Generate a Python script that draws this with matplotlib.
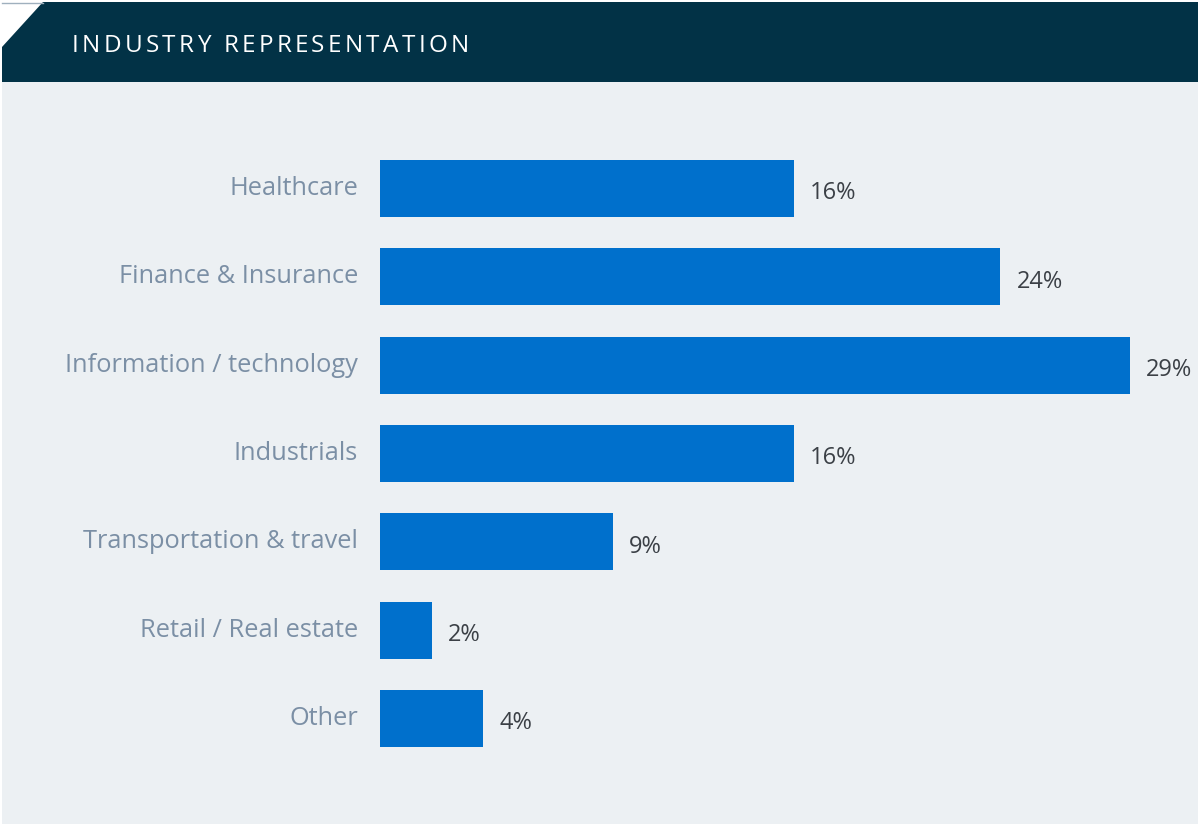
import matplotlib
matplotlib.use("Agg")
import matplotlib.pyplot as plt
from matplotlib.patches import Polygon, Rectangle

categories = ["Healthcare", "Finance & Insurance", "Information / technology",
              "Industrials", "Transportation & travel", "Retail / Real estate", "Other"]
shares = [16, 24, 29, 16, 9, 2, 4]
value_labels = ["16%", "24%", "29%", "16%", "9%", "2%", "4%"]
title = "INDUSTRY REPRESENTATION"

W, H = 1198, 826
fig = plt.figure(figsize=(W / 100, H / 100), dpi=100)
fig.patch.set_facecolor("white")

FONT = ["Open Sans", "DejaVu Sans"]
PANEL = "#ECF0F3"
HEADER = "#023246"
BAR = "#0070CC"
CAT = "#7B8FA5"
VAL = "#3B4046"

# Background canvas in pixel coordinates
bg = fig.add_axes([0, 0, 1, 1])
bg.set_xlim(0, W)
bg.set_ylim(H, 0)
bg.axis("off")
bg.add_patch(Rectangle((2, 82), W - 2, 742, facecolor=PANEL, edgecolor="none"))
bg.add_patch(Polygon([(43, 2), (W, 2), (W, 82), (2, 82), (2, 47)], closed=True,
                     facecolor=HEADER, edgecolor="none"))
bg.plot([2, 43], [2.5, 2.5], color="#9FB0BE", lw=1)

# Letter-spaced header title
fig.canvas.draw()
renderer = fig.canvas.get_renderer()
tracking = 3.3
x = 72
for ch in title:
    t = bg.text(x, 45.5, ch, color="white", fontsize=17.5, family=FONT,
                va="center", ha="left")
    probe = bg.text(0, 0, ch + "|", fontsize=17.5, family=FONT)
    bar_probe = bg.text(0, 0, "|", fontsize=17.5, family=FONT)
    w = probe.get_window_extent(renderer).width - bar_probe.get_window_extent(renderer).width
    probe.remove()
    bar_probe.remove()
    x += w + tracking

# Bar chart
n = len(categories)
px_per_unit = 25.85
left_px, top_px, step = 380, 144.3, 88.33
xmax = 31
ax = fig.add_axes([left_px / W, 1 - (top_px + n * step) / H,
                   xmax * px_per_unit / W, n * step / H])
ax.set_facecolor("none")
ys = list(range(n))
ax.barh(ys, shares, height=0.645, color=BAR)
ax.set_xlim(0, xmax)
ax.set_ylim(n - 0.5, -0.5)
for s in ax.spines.values():
    s.set_visible(False)
ax.set_xticks([])
ax.set_yticks([])
for y, lab in zip(ys, categories):
    ax.annotate(lab, (0, y), xytext=(-22, 0), textcoords="offset pixels",
                ha="right", va="center", fontsize=18.3, color=CAT, family=FONT)
for y, v, lab in zip(ys, shares, value_labels):
    ax.annotate(lab, (v, y), xytext=(16, -5), textcoords="offset pixels",
                ha="left", va="center", fontsize=17, color=VAL, family=FONT)

fig.savefig("out.png", dpi=100, facecolor=fig.get_facecolor())
